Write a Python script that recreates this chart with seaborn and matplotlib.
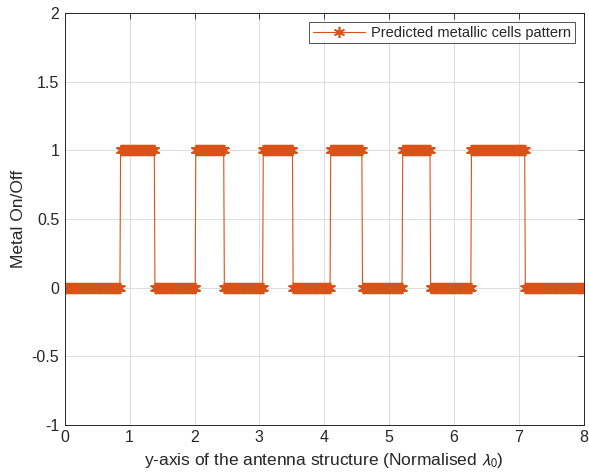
import numpy as np
import pandas as pd
import matplotlib
matplotlib.use("Agg")
import matplotlib.pyplot as plt
import seaborn as sns

# segment edges along the antenna (normalised lambda_0) and metal state in each
seg_edges = [0.0, 0.86, 1.39, 2.02, 2.46, 3.06, 3.52, 4.10, 4.59, 5.21, 5.64, 6.27, 7.10, 8.0]
seg_state = [0, 1, 0, 1, 0, 1, 0, 1, 0, 1, 0, 1, 0]
step = 0.01  # spacing of predicted cells

# expand segments into the sampled cell pattern
xs, ys = [], []
for i, s in enumerate(seg_state):
    pts = np.arange(seg_edges[i], seg_edges[i + 1] - 1e-9, step)
    xs.extend(pts)
    ys.extend([s] * len(pts))
xs.append(seg_edges[-1])
ys.append(seg_state[-1])
df = pd.DataFrame({'x': xs, 'y': ys})

sns.set_style('white')
plt.rcParams['font.family'] = ['Liberation Sans', 'DejaVu Sans']
plt.rcParams['mathtext.fontset'] = 'stixsans'

fig = plt.figure(figsize=(5.89, 4.72), dpi=100)
ax = fig.add_axes([0.11, 0.1, 0.881, 0.872])
col = '#D95319'
sns.lineplot(data=df, x='x', y='y', ax=ax, color=col, linewidth=0.8,
             marker=(6, 2, 0), markersize=8, markeredgecolor=col,
             markeredgewidth=1.2, label='Predicted metallic cells pattern',
             estimator=None, sort=False)

ax.set_xlim(0, 8)
ax.set_ylim(-1, 2)
ax.set_xticks(range(0, 9))
ax.set_yticks([-1, -0.5, 0, 0.5, 1, 1.5, 2])
ax.set_yticklabels(['-1', '-0.5', '0', '0.5', '1', '1.5', '2'])
ax.grid(True, color='#dcdcdc', linewidth=0.7)
ax.tick_params(direction='in', length=4, top=True, right=True,
               labelsize=11.5, colors='#262626', width=0.6, pad=4)
for sp in ax.spines.values():
    sp.set_color('#262626')
    sp.set_linewidth(0.7)
ax.set_xlabel(r'y-axis of the antenna structure (Normalised $\lambda_0$)',
              fontsize=12.5, color='#262626', labelpad=4)
ax.set_ylabel('Metal On/Off', fontsize=12.5, color='#262626', labelpad=4)
leg = ax.legend(loc='upper right', fontsize=10.5, frameon=True, fancybox=False,
                edgecolor='#262626', borderaxespad=0.6, handlelength=3.6,
                borderpad=0.25, handletextpad=0.4)
leg.get_frame().set_linewidth(0.7)

fig.savefig('out.png', dpi=100)
